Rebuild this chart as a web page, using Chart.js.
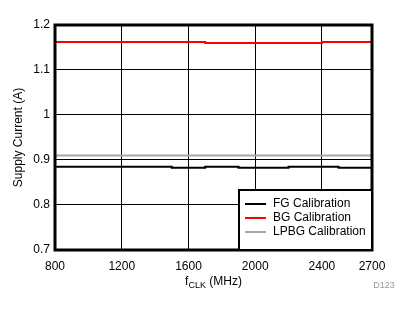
<!DOCTYPE html>
<html lang="en">
<head>
<meta charset="UTF-8">
<title>Supply Current vs fCLK</title>
<script src="https://cdn.jsdelivr.net/npm/chart.js"></script>
<style>
  html, body { margin: 0; padding: 0; background: #fff; }
  canvas { display: block; }
</style>
</head>
<body>
<canvas id="currChart" width="411" height="312"></canvas>
<script>
  // data (A)
  const freqMHz = [800, 900, 1000, 1100, 1200, 1300, 1400, 1500, 1600, 1700, 1800, 1900, 2000, 2100, 2200, 2300, 2400, 2500, 2600, 2700]
  const fgCal   = [0.885, 0.885, 0.885, 0.885, 0.885, 0.885, 0.885, 0.883, 0.883, 0.885, 0.885, 0.883, 0.883, 0.883, 0.885, 0.885, 0.885, 0.883, 0.883, 0.883]
  const bgCal   = [1.162, 1.162, 1.162, 1.162, 1.162, 1.162, 1.162, 1.162, 1.162, 1.160, 1.160, 1.160, 1.160, 1.160, 1.160, 1.160, 1.162, 1.162, 1.162, 1.162]
  const lpbgCal = [0.910, 0.910, 0.910, 0.910, 0.910, 0.910, 0.910, 0.910, 0.910, 0.910, 0.910, 0.910, 0.910, 0.910, 0.910, 0.910, 0.910, 0.910, 0.910, 0.910]
  const seriesNames = ['FG Calibration', 'BG Calibration', 'LPBG Calibration']
  const seriesColors = ['#000000', '#ff0000', '#a6a6a6']
  const xTicks = [800, 1200, 1600, 2000, 2400, 2700]
  const yTicks = [0.7, 0.8, 0.9, 1.0, 1.1, 1.2]

  const FONT = 'Arial, "Liberation Sans", sans-serif'

  function pts(vals) {
    return freqMHz.map((f, i) => ({ x: f, y: vals[i] }))
  }

  const sets = [fgCal, bgCal, lpbgCal].map((vals, i) => ({
    label: seriesNames[i],
    data: pts(vals),
    borderColor: seriesColors[i],
    backgroundColor: seriesColors[i],
    borderWidth: 2,
    pointRadius: 0,
    stepped: true,
    order: 2 - i
  }))

  // thick frame + legend box + x title + tag
  const decor = {
    id: 'decor',
    afterDatasetsDraw(chart) {
      const ctx = chart.ctx
      const a = chart.chartArea
      ctx.save()
      ctx.strokeStyle = '#000'
      ctx.lineWidth = 3
      ctx.strokeRect(a.left, a.top, a.right - a.left, a.bottom - a.top)

      // legend inside the plot, bottom right
      const bx = 239, by = 190, bw = a.right - bx, bh = a.bottom - by
      ctx.fillStyle = '#fff'
      ctx.fillRect(bx, by, bw, bh)
      ctx.lineWidth = 2
      ctx.strokeRect(bx, by, bw, bh)
      ctx.font = '12px ' + FONT
      ctx.textBaseline = 'middle'
      ctx.textAlign = 'left'
      chart.data.datasets.forEach((ds, i) => {
        const y = 204 + i * 14
        ctx.strokeStyle = ds.borderColor
        ctx.lineWidth = 2
        ctx.beginPath()
        ctx.moveTo(245, y)
        ctx.lineTo(266, y)
        ctx.stroke()
        ctx.fillStyle = '#000'
        ctx.fillText(ds.label, 273, y)
      })

      // x axis title with subscript
      ctx.fillStyle = '#000'
      ctx.textBaseline = 'alphabetic'
      const cx = (a.left + a.right) / 2
      const parts = [['f', 12, 0], ['CLK', 9, 3], [' (MHz)', 12, 0]]
      let tw = 0
      parts.forEach(p => { ctx.font = p[1] + 'px ' + FONT; tw += ctx.measureText(p[0]).width })
      let x = cx - tw / 2
      parts.forEach(p => {
        ctx.font = p[1] + 'px ' + FONT
        ctx.fillText(p[0], x, 285 + p[2])
        x += ctx.measureText(p[0]).width
      })

      ctx.fillStyle = '#999'
      ctx.font = '9px ' + FONT
      ctx.textAlign = 'center'
      ctx.fillText('D123', 384, 288)
      ctx.restore()
    }
  }

  const config = {
    type: 'line',
    data: { datasets: sets },
    options: {
      responsive: false,
      animation: false,
      layout: { padding: { top: 25, right: 39, left: 0, bottom: 0 } },
      plugins: { legend: { display: false }, tooltip: { enabled: false } },
      scales: {
        x: {
          type: 'linear',
          min: 800,
          max: 2700,
          afterBuildTicks: s => { s.ticks = xTicks.map(v => ({ value: v })) },
          afterFit: s => { s.height = 62 },
          grid: { color: '#000', lineWidth: 1, drawTicks: false },
          border: { display: false },
          ticks: {
            color: '#000', font: { family: FONT, size: 12 }, padding: 9, maxRotation: 0, autoSkip: false,
            callback: v => String(v)
          }
        },
        y: {
          min: 0.7,
          max: 1.2,
          afterBuildTicks: s => { s.ticks = yTicks.map(v => ({ value: v })) },
          afterFit: s => { s.width = 55 },
          grid: { color: '#000', lineWidth: 1, drawTicks: false },
          border: { display: false },
          title: { display: true, text: 'Supply Current (A)', color: '#000', font: { family: FONT, size: 12 }, padding: { top: 11, bottom: 0 } },
          ticks: {
            color: '#000', font: { family: FONT, size: 12 }, padding: 5,
            callback: v => String(Number(v.toFixed(1)))
          }
        }
      }
    },
    plugins: [decor]
  }

  const currChart = new Chart(document.getElementById('currChart'), config)
</script>
</body>
</html>
